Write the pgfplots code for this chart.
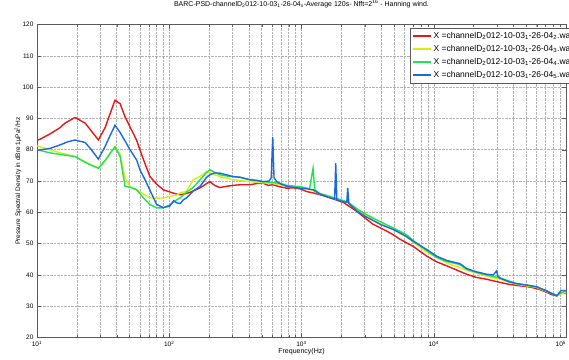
\documentclass[border=0pt]{standalone}
\usepackage{fontspec}
\setmainfont{Liberation Sans}
\usepackage{pgfplots}
\pgfplotsset{compat=1.18}
\definecolor{cred}{RGB}{232,22,22}
\definecolor{cyel}{RGB}{215,238,20}
\definecolor{cgrn}{RGB}{30,228,80}
\definecolor{cblu}{RGB}{28,105,222}
\begin{document}
\begin{tikzpicture}
\begin{axis}[
  scale only axis, width=529pt, height=313pt,
  xmode=log, xmin=10, xmax=100000, ymin=20, ymax=120,
  ytick={20,30,...,120},
  xtick={10,100,1000,10000,100000},
  xticklabels={10\textsuperscript{1},10\textsuperscript{2},10\textsuperscript{3},10\textsuperscript{4},\makebox[0pt][r]{10\textsuperscript{5}}},
  grid=both,
  major grid style={densely dotted, gray!60},
  minor grid style={densely dotted, gray!60},
  tick align=inside,
  axis line style={gray!70!black},
  tick style={gray!70!black},
  tick label style={font=\fontsize{6.5}{7}\selectfont},
  /pgf/number format/assume math mode=true,
  xlabel={Frequency(Hz)},
  xlabel style={font=\fontsize{7}{8}\selectfont, at={(axis description cs:0.5,-0.046)}, anchor=center},
  ylabel={Pressure Spectral Density in dBre 1µPa\textsuperscript{2}/Hz},
  ylabel style={font=\fontsize{6.5}{7}\selectfont, at={(axis description cs:-0.036,0.5)}, anchor=center},
  title={BARC-PSD-channelD\textsubscript{2}012-10-03\textsubscript{1}-26-04\textsubscript{x}-Average 120s- Nfft=2\textsuperscript{16} - Hanning wind.},
  title style={font=\fontsize{7}{8}\selectfont, at={(axis description cs:0.5,1.047)}, anchor=center},
  legend style={at={(axis description cs:0.705,0.988)}, anchor=north west,
    font=\fontsize{8.5}{9}\selectfont, draw=gray!70!black, fill=white,
    row sep=1pt, inner sep=2pt,
    nodes={inner sep=1.5pt, text height=6.5pt, text depth=2.5pt}},
  legend cell align=left,
  legend image code/.code={\draw[#1, line width=1.9pt] plot coordinates {(0pt,0pt) (9pt,0pt) (18pt,0pt)};},
  every axis plot/.append style={line width=1.4pt},
]
\coordinate (bl) at (rel axis cs:0,0);
\coordinate (tr) at (rel axis cs:1,1);
% red
\addplot[cred] coordinates {
(10,83.0)(10.5,83.3)(12.5,85)(14.9,87)(16.3,88.5)(19.4,90.3)(23.1,88.5)(25.2,86.5)(29.1,83.1)(32.7,87)(35.7,91.5)(38.9,95.8)(42.5,94.7)(46.3,90.5)(50.5,87.3)(56.7,83)(60.1,79.9)(65.6,75.5)(71.5,71.4)(80.3,69)(90.1,67.2)(101,66.5)(114,65.8)(121,65.6)(135,66)(144,66.4)(152,66.8)(171,67.8)(192,69.2)(203,69.8)(220,68.6)(242,67.9)(270,68.3)(304,68.6)(343,68.8)(408,68.8)(460,69.2)(512,69.3)(560,68.6)(606,68.8)(680,68.2)(773,67.7)(870,67.8)(975,67.5)(1100,66.6)(1222,66.2)(1380,65.6)(1600,64.8)(1815,64.0)(2100,63.0)(2614,60.3)(3000,58.3)(3473,56.2)(4408,54.0)(4946,52.8)(5500,51.5)(6247,50.2)(7000,49.1)(8846,46.0)(10500,44.2)(12540,42.9)(15000,41.5)(17750,40.2)(21000,39.2)(25130,38.6)(28200,38.1)(31690,37.6)(37000,37.0)(44890,36.5)(50000,36.3)(55000,36.0)(63540,35.3)(70000,34.6)(78000,33.7)(85070,33.3)(92000,34.2)(100000,34.2)
};
\addlegendentry{X =channelD\textsubscript{2}012-10-03\textsubscript{1}-26-04\textsubscript{2}.wav}
% yellow
\addplot[cyel] coordinates {
(10,81.2)(12.5,80)(14.9,79)(19.4,77.8)(23.1,76.2)(25.2,75.3)(29.1,74.1)(32.7,76.5)(35.7,78.8)(38.9,80.9)(42.5,78.5)(46.3,71)(50.5,68.3)(56.7,67.2)(65.6,65.5)(71.5,64.6)(80.3,64.5)(90.1,64.6)(101,65.1)(114,65.5)(121,66.2)(135,66.7)(152,70.4)(171,71.5)(192,73.0)(203,72.5)(242,71.4)(304,70.4)(343,70.2)(408,69.8)(512,69.4)(606,69.2)(773,68.5)(975,68.0)(1222,67.0)(1380,65.8)(1815,64.3)(2236,63.0)(2614,60.8)(3473,57.6)(4408,55.5)(4946,54.5)(6247,52.0)(8846,47.3)(12540,43.8)(17750,41.5)(25130,39.6)(31690,38.6)(42390,37.0)(59990,36.0)(85070,33.4)(100000,34.6)
};
\addlegendentry{X =channelD\textsubscript{2}012-10-03\textsubscript{1}-26-04\textsubscript{3}.wav}
% green
\addplot[cgrn] coordinates {
(10,80.0)(12.5,79.0)(14.9,78.5)(19.4,77.8)(23.1,76.0)(25.2,75.2)(29.1,74.1)(32.7,76.5)(35.7,78.8)(38.9,80.9)(42.5,77.8)(46.3,68.3)(50.5,68.0)(56.7,67.2)(65.6,64.0)(71.5,62.5)(80.3,61.4)(90.1,61.4)(101,62.4)(114,64.0)(121,64.6)(135,66.5)(144,67.2)(152,68.0)(171,70.4)(192,72.8)(203,73.6)(220,72.8)(242,72.0)(270,71.6)(304,71.4)(343,71.2)(408,70.4)(512,69.8)(606,69.5)(700,69.2)(773,68.6)(975,68.2)(1150,67.5)(1222,74.1)(1260,67.2)(1380,66.0)(1600,65.2)(1815,64.5)(2236,63.3)(2614,61.2)(3000,59.6)(3473,58.2)(4408,56.0)(4946,55.0)(6247,52.8)(7000,51.0)(8846,47.8)(10500,45.6)(12540,44.3)(15790,43.3)(17750,41.8)(21000,40.8)(25130,40.0)(31690,39.0)(42390,37.2)(59990,36.2)(85070,33.5)(100000,35.0)
};
\addlegendentry{X =channelD\textsubscript{2}012-10-03\textsubscript{1}-26-04\textsubscript{4}.wav}
% blue
\addplot[cblu] coordinates {
(10,79.8)(12.5,80.4)(14.9,81.5)(17,82.5)(19.4,83.1)(23.1,82.3)(25.2,80.5)(29.1,77.0)(32.7,81)(35.7,84.5)(38.9,87.8)(42.5,85.5)(46.3,82.8)(50.5,80)(56.7,76.7)(60.1,73.5)(65.6,70.4)(71.5,67.0)(80.3,62.5)(90.1,61.5)(101,62.0)(108,63.7)(114,63.0)(121,62.8)(128,64.0)(135,64.6)(144,65.8)(152,66.8)(171,68.3)(192,71.2)(203,72.0)(220,72.6)(242,72.5)(270,72.0)(304,71.4)(343,71.2)(408,70.4)(460,70.2)(512,69.8)(570,70.0)(590,71)(606,84.1)(620,71)(650,69.8)(700,69.0)(773,68.3)(870,68.0)(975,67.7)(1100,67.5)(1222,67.2)(1380,65.8)(1600,64.8)(1780,64.2)(1815,75.7)(1850,64.0)(2100,63.3)(2200,63.2)(2236,67.8)(2280,62.8)(2614,60.5)(3000,58.8)(3473,57.4)(4000,56.0)(4946,54.5)(5500,53.5)(6247,52.2)(7000,50.7)(8846,48.1)(10500,46.0)(12540,44.6)(15790,43.6)(17750,42.0)(21000,41.0)(25130,40.2)(28200,40.0)(29920,41.3)(30500,39.6)(31690,39.0)(37000,37.8)(42390,37.2)(50000,36.8)(59990,36.2)(65000,35.6)(72000,34.8)(80000,33.8)(85070,33.3)(92000,35.0)(100000,35.0)
};
\addlegendentry{X =channelD\textsubscript{2}012-10-03\textsubscript{1}-26-04\textsubscript{5}.wav}
\end{axis}
\pgfresetboundingbox
\path ([shift={(-37pt,-22.5pt)}]bl) rectangle ([shift={(3pt,24.5pt)}]tr);
\end{tikzpicture}
\end{document}
